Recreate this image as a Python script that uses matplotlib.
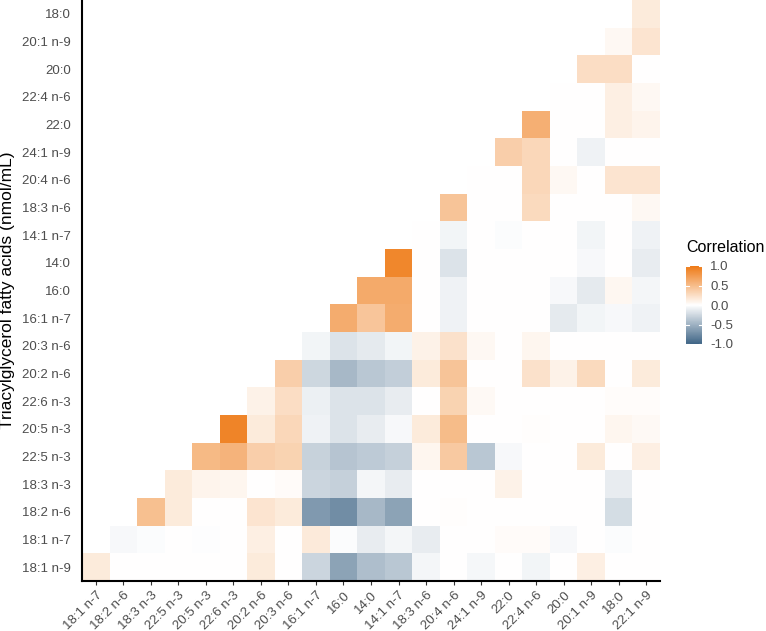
import numpy as np
import matplotlib
matplotlib.use('Agg')
import matplotlib.pyplot as plt
from matplotlib.colors import LinearSegmentedColormap

plt.rcParams['font.family'] = ['Liberation Sans', 'DejaVu Sans']

# y axis, bottom to top
y_labels = ['18:1 n-9', '18:1 n-7', '18:2 n-6', '18:3 n-3', '22:5 n-3', '20:5 n-3',
            '22:6 n-3', '20:2 n-6', '20:3 n-6', '16:1 n-7', '16:0', '14:0', '14:1 n-7',
            '18:3 n-6', '20:4 n-6', '24:1 n-9', '22:0', '22:4 n-6', '20:0', '20:1 n-9', '18:0']
# x axis, left to right
x_labels = ['18:1 n-7', '18:2 n-6', '18:3 n-3', '22:5 n-3', '20:5 n-3', '22:6 n-3',
            '20:2 n-6', '20:3 n-6', '16:1 n-7', '16:0', '14:0', '14:1 n-7', '18:3 n-6',
            '20:4 n-6', '24:1 n-9', '22:0', '22:4 n-6', '20:0', '20:1 n-9', '18:0', '22:1 n-9']

# correlations, one row per y label (bottom to top), starting at the diagonal column
corr_rows = [
    [0.15, 0.0, 0.0, 0.0, 0.0, 0.0, 0.15, 0.0, -0.27, -0.6, -0.42, -0.36, -0.06, 0.0, -0.05, 0.0, -0.07, 0.0, 0.12, 0.0, 0.0],
    [-0.04, -0.02, 0.0, -0.01, 0.0, 0.12, 0.0, 0.16, -0.02, -0.12, -0.06, -0.12, 0.0, 0.0, 0.03, 0.03, -0.04, 0.0, -0.02, 0.0],
    [0.47, 0.15, 0.0, 0.0, 0.2, 0.15, -0.66, -0.74, -0.46, -0.6, 0.0, 0.01, 0.0, 0.0, 0.0, 0.0, 0.0, -0.22, 0.0],
    [0.15, 0.08, 0.07, 0.0, 0.03, -0.27, -0.3, -0.06, -0.12, 0.0, 0.0, 0.0, 0.1, 0.0, 0.0, 0.0, -0.12, 0.0],
    [0.52, 0.57, 0.36, 0.33, -0.29, -0.38, -0.34, -0.3, 0.07, 0.4, -0.36, -0.04, 0.0, 0.0, 0.15, 0.0, 0.12],
    [0.92, 0.15, 0.3, -0.08, -0.18, -0.12, -0.04, 0.15, 0.5, 0.0, 0.0, 0.01, 0.0, 0.0, 0.07, 0.04],
    [0.1, 0.25, -0.1, -0.18, -0.18, -0.12, 0.0, 0.33, 0.04, 0.0, 0.0, 0.0, 0.0, 0.02, 0.02],
    [0.36, -0.26, -0.46, -0.36, -0.32, 0.15, 0.44, 0.0, 0.0, 0.22, 0.1, 0.28, 0.0, 0.15],
    [-0.07, -0.18, -0.14, -0.07, 0.1, 0.22, 0.05, 0.0, 0.07, 0.0, 0.0, 0.0, 0.0],
    [0.62, 0.43, 0.62, 0.0, -0.08, 0.0, 0.0, 0.0, -0.14, -0.07, -0.04, -0.08],
    [0.64, 0.64, 0.0, -0.08, 0.0, 0.0, 0.0, -0.04, -0.14, 0.06, -0.06],
    [0.9, 0.0, -0.18, 0.0, 0.0, 0.0, 0.0, -0.04, 0.0, -0.12],
    [0.0, -0.07, 0.0, -0.02, 0.0, 0.0, -0.07, 0.0, -0.08],
    [0.44, 0.0, 0.0, 0.28, 0.0, 0.0, 0.0, 0.05],
    [0.0, 0.0, 0.3, 0.05, 0.0, 0.2, 0.2],
    [0.36, 0.3, 0.0, -0.08, 0.0, 0.0],
    [0.6, 0.0, 0.0, 0.12, 0.08],
    [0.0, 0.0, 0.12, 0.05],
    [0.25, 0.25, 0.0],
    [0.05, 0.2],
    [0.15],
]

n = len(x_labels)
mat = np.full((len(y_labels), n), np.nan)
for i, row in enumerate(corr_rows):
    mat[i, i:i + len(row)] = row

cmap = LinearSegmentedColormap.from_list('corr', ['#3f6586', '#ffffff', '#ee7a16'])

fig = plt.figure(figsize=(7.66, 6.31), dpi=100)
ax = fig.add_axes([82 / 766, 1 - 581 / 631, 578 / 766, 581 / 631])
mesh = ax.pcolormesh(np.ma.masked_invalid(mat), cmap=cmap, vmin=-1, vmax=1)

ax.set_xlim(0, n)
ax.set_ylim(0, len(y_labels))
ax.set_xticks(np.arange(n) + 0.5)
ax.set_xticklabels(x_labels, rotation=45, ha='right', va='top', rotation_mode='anchor',
                   color='#4d4d4d', fontsize=9.5)
ax.set_yticks(np.arange(len(y_labels)) + 0.5)
ax.set_yticklabels(y_labels, color='#4d4d4d', fontsize=9.5)
ax.tick_params(axis='x', length=3, width=0.8, color='#333333', pad=3)
ax.tick_params(axis='y', length=0, pad=8)
for s in ['top', 'right']:
    ax.spines[s].set_visible(False)
for s in ['left', 'bottom']:
    ax.spines[s].set_linewidth(1.5)
    ax.spines[s].set_color('black')
ax.set_ylabel('Triacylglycerol fatty acids (nmol/mL)', fontsize=12.5, labelpad=5)

# colorbar legend
cax = fig.add_axes([686 / 766, 1 - 344 / 631, 16 / 766, 78 / 631])
cb = fig.colorbar(mesh, cax=cax, ticks=[-1, -0.5, 0, 0.5, 1])
cb.outline.set_visible(False)
cb.ax.set_yticklabels(['-1.0', '-0.5', '0.0', '0.5', '1.0'], color='#4d4d4d', fontsize=9.5)
cb.ax.tick_params(length=0, pad=6)
for v in [-1, -0.5, 0, 0.5, 1]:
    cax.plot([0, 0.2], [v, v], color='white', lw=0.8)
    cax.plot([0.8, 1], [v, v], color='white', lw=0.8)
fig.text(686 / 766, 1 - 248 / 631, 'Correlation', fontsize=11.5, va='center', ha='left')

plt.savefig('out.png', dpi=100)
